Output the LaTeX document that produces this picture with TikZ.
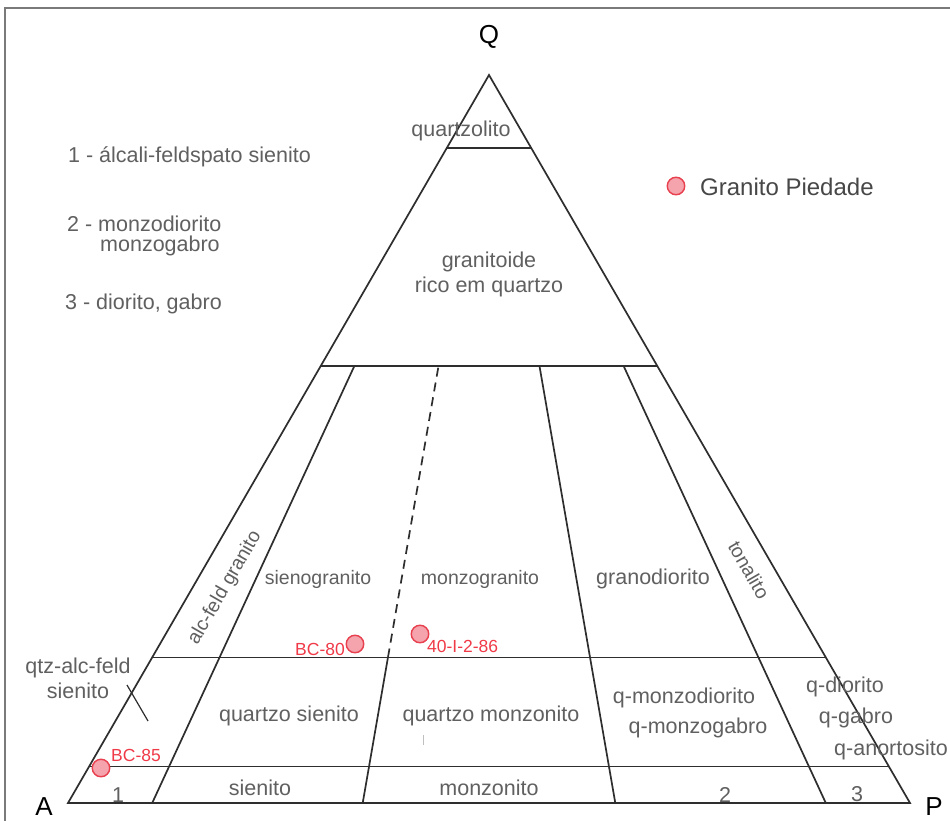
\documentclass[tikz,border=0pt]{standalone}
\usepackage{fontspec}
\setmainfont{Liberation Sans}
\definecolor{edge}{HTML}{2E2E2E}
\definecolor{labgray}{HTML}{606060}
\definecolor{framegray}{HTML}{7A7A7A}
\definecolor{dotfill}{HTML}{F5A3AC}
\definecolor{dotline}{HTML}{E8404E}
\definecolor{redtext}{HTML}{F03A48}
\newcommand\qapc[3]{\coordinate (#1) at ({68+#2*421+(1-#2)*#3*842},{803-#2*728});}
\begin{document}
\begin{tikzpicture}[x=1pt,y=-1pt,
  bline/.style={draw=edge,line width=1.7pt},
  lab/.style={text=labgray,font=\fontsize{21.5}{25}\selectfont,inner sep=0pt},
  smlab/.style={lab,font=\fontsize{19.5}{23}\selectfont},
  vert/.style={text=black,font=\fontsize{26}{29}\selectfont,inner sep=0pt},
  rlab/.style={text=redtext,font=\fontsize{17.5}{20}\selectfont,inner sep=0pt},
  sample/.style={circle,draw=dotline,fill=dotfill,line width=1.4pt,minimum size=17.5pt,inner sep=0pt}]
\useasboundingbox (0,0) rectangle (950,821);
\fill[white] (0,0) rectangle (950,821);
% frame
\draw[framegray,line width=2pt] (5,821) -- (5,8) -- (950,8);
% vertices
\qapc{A}{0}{0}
\qapc{P}{0}{1}
\qapc{Q}{1}{0}
% horizontal levels
\foreach \q/\n in {0.9/a,0.6/b,0.2/c,0.05/d}{
  \qapc{\n L}{\q}{0}
  \qapc{\n R}{\q}{1}
}
% radial lines
\foreach \r/\n in {0.1/r1,0.35/r2,0.65/r3,0.9/r4}{
  \qapc{\n 0}{0}{\r}
  \qapc{\n c}{0.2}{\r}
  \qapc{\n b}{0.6}{\r}
}
\draw[bline,line join=miter] (A) -- (P) -- (Q) -- cycle;
\draw[bline] (aL) -- (aR);
\draw[bline] (bL) -- (bR);
\draw[bline] (cL) -- (cR);
\draw[bline] (dL) -- (dR);
\draw[bline] (r10) -- (r1b);
\draw[bline] (r20) -- (r2c);
\draw[bline,dash pattern=on 9pt off 6pt] (r2c) -- (r2b);
\draw[bline] (r30) -- (r3b);
\draw[bline] (r40) -- (r4b);
% leader for qtz-alc-feld sienito
\coordinate (ld1) at (127,685);
\coordinate (ld2) at (148,721);
\draw[edge,line width=1.2pt] (ld1) -- (ld2);
% faint tick
\coordinate (tk1) at (423,735);
\coordinate (tk2) at (423,745);
\draw[black!25,line width=0.8pt] (tk1) -- (tk2);
% vertex labels
\node[vert] (lQ) at (489,37) {Q};
\node[vert] (lA) at (44,807) {A};
\node[vert] (lP) at (934,807) {P};
% field labels
\node[lab] (quartzolito) at (461,131) {quartzolito};
\node[lab,align=center] (granitoide) at (489,274) {granitoide\\rico em quartzo};
\node[smlab,rotate=60] (afg) at (225,588) {alc-feld granito};
\node[smlab] (sieno) at (318,579) {sienogranito};
\node[smlab] (monzo) at (480,579) {monzogranito};
\node[lab] (grano) at (653,579) {granodiorito};
\node[smlab,rotate=-60] (tonal) at (749,570) {tonalito};
\node[lab,align=center] (qafs) at (78,678) {qtz-alc-feld\\sienito};
\node[lab] (qsien) at (289,716) {quartzo sienito};
\node[lab] (qmonz) at (491,716) {quartzo monzonito};
\node[lab] (qmd1) at (684,698) {q-monzodiorito};
\node[lab] (qmd2) at (698,728) {q-monzogabro};
\node[lab] (qdio) at (845,687) {q-diorito};
\node[lab] (qgab) at (856,718) {q-gabro};
\node[lab] (qano) at (891,750) {q-anortosito};
\node[lab] (n1) at (118,795) {1};
\node[lab] (sien) at (260,788) {sienito};
\node[lab] (monz) at (489,788) {monzonito};
\node[lab] (n2) at (725,795) {2};
\node[lab] (n3) at (857,794) {3};
% legend text
\node[lab,anchor=west] (k1) at (68,157) {1 - álcali-feldspato sienito};
\node[lab,anchor=west] (k2a) at (67,224) {2 - monzodiorito};
\node[lab,anchor=west] (k2b) at (100,246) {monzogabro};
\node[lab,anchor=west] (k3) at (65,304) {3 - diorito, gabro};
\node[sample] (leg) at (676,186) {};
\node[lab,anchor=west,font=\fontsize{24}{28}\selectfont,text=black!72] (legt) at (700,187) {Granito Piedade};
% samples
\node[sample] (s80) at (355,644) {};
\node[rlab,anchor=east] (l80) at (345,649) {BC-80};
\node[sample] (s86) at (420,634) {};
\node[rlab,anchor=west] (l86) at (427,646) {40-I-2-86};
\node[sample] (s85) at (101,768) {};
\node[rlab,anchor=west] (l85) at (111,755) {BC-85};
\end{tikzpicture}
\end{document}
